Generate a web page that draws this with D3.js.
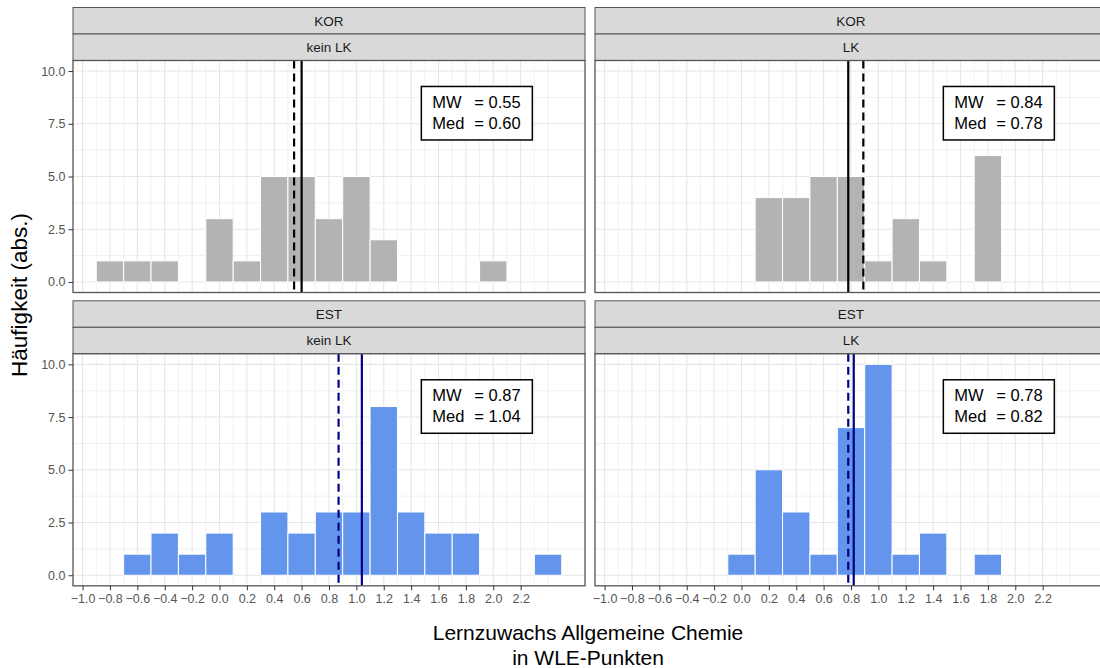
<!DOCTYPE html>
<html><head><meta charset="utf-8">
<script src="https://cdn.jsdelivr.net/npm/d3@7"></script>
<style>body{margin:0;background:#fff;overflow:hidden} text{font-family:"Liberation Sans",Arial,sans-serif;}</style>
</head><body><svg id="chart" width="1100" height="668"></svg>
<script>
// ---- data ----
const binMids = [-0.8,-0.6,-0.4,-0.2,0.0,0.2,0.4,0.6,0.8,1.0,1.2,1.4,1.6,1.8,2.0,2.2,2.4];
const korKeinLK = [1,1,1,0,3,1,5,5,3,5,2,0,0,0,1,0,0];
const korLK     = [0,0,0,0,0,4,4,5,5,1,3,1,0,6,0,0,0];
const estKeinLK = [0,1,2,1,2,0,3,2,3,3,8,3,2,2,0,0,1];
const estLK     = [0,0,0,0,1,5,3,1,7,10,1,2,0,1,0,0,0];
const countries = ["KOR","KOR","EST","EST"];
const groups = ["kein LK","LK","kein LK","LK"];
const meanLines = [0.545,0.89,0.87,0.78];   // dashed
const medianLines = [0.60,0.78,1.04,0.82];  // solid
const mwLabels = ["0.55","0.84","0.87","0.78"];
const medLabels = ["0.60","0.78","1.04","0.82"];
const xTickValues = [-1.0,-0.8,-0.6,-0.4,-0.2,0.0,0.2,0.4,0.6,0.8,1.0,1.2,1.4,1.6,1.8,2.0,2.2];
const xMinor = [-0.9,-0.7,-0.5,-0.3,-0.1,0.1,0.3,0.5,0.7,0.9,1.1,1.3,1.5,1.7,1.9,2.1,2.3,2.4];
const yTickValues = [0,2.5,5,7.5,10];
const yMinor = [1.25,3.75,6.25,8.75];
const countsByPanel = [korKeinLK, korLK, estKeinLK, estLK];

// ---- layout ----
const svg = d3.select("#chart");
const colX = [73, 595];
const rowY = [7.5, 300.8];
const panelW = 512, stripH = 26.5, plotH = 232;
const x = d3.scaleLinear().domain([-1.07, 2.67]).range([0, panelW]);
const y = d3.scaleLinear().domain([-0.5, 10.5]).range([plotH, 0]);
const fills = {KOR:"#b3b3b3", EST:"#6495ed"};
const lineCol = {KOR:"#000000", EST:"#000080"};

const defs = svg.append("defs");
countsByPanel.forEach((counts, i) => {
  const col = i % 2, row = Math.floor(i / 2);
  const px = colX[col], top = rowY[row], py = top + 2*stripH;
  const country = countries[i];
  defs.append("clipPath").attr("id","clip"+i).append("rect")
    .attr("x",0).attr("y",0).attr("width",panelW).attr("height",plotH);

  // strips
  [country, groups[i]].forEach((lab, k) => {
    const sy = top + k*stripH;
    svg.append("rect").attr("x",px).attr("y",sy).attr("width",panelW).attr("height",stripH)
      .attr("fill","#d9d9d9").attr("stroke","#555").attr("stroke-width",1);
    svg.append("text").attr("x",px+panelW/2).attr("y",sy+stripH/2+4.8)
      .attr("text-anchor","middle").attr("font-size",13.5).attr("fill","#1a1a1a").text(lab);
  });

  const g = svg.append("g").attr("transform",`translate(${px},${py})`);
  const inner = g.append("g").attr("clip-path",`url(#clip${i})`);
  inner.append("rect").attr("width",panelW).attr("height",plotH).attr("fill","#fff");
  // grid
  inner.selectAll(".xmin").data(xMinor).join("line")
    .attr("x1",d=>x(d)).attr("x2",d=>x(d)).attr("y1",0).attr("y2",plotH)
    .attr("stroke","#ebebeb").attr("stroke-width",0.7);
  inner.selectAll(".ymin").data(yMinor).join("line")
    .attr("y1",d=>y(d)).attr("y2",d=>y(d)).attr("x1",0).attr("x2",panelW)
    .attr("stroke","#ebebeb").attr("stroke-width",0.7);
  inner.selectAll(".xmaj").data(xTickValues).join("line")
    .attr("x1",d=>x(d)).attr("x2",d=>x(d)).attr("y1",0).attr("y2",plotH)
    .attr("stroke","#e6e6e6").attr("stroke-width",1.1);
  inner.selectAll(".ymaj").data(yTickValues).join("line")
    .attr("y1",d=>y(d)).attr("y2",d=>y(d)).attr("x1",0).attr("x2",panelW)
    .attr("stroke","#e6e6e6").attr("stroke-width",1.1);
  // bars
  const bars = binMids.map((m, j) => ({m, c: counts[j]})).filter(d => d.c > 0);
  inner.selectAll(".bar").data(bars).join("rect")
    .attr("x",d=>x(d.m-0.1)).attr("width",d=>x(d.m+0.1)-x(d.m-0.1))
    .attr("y",d=>y(d.c)).attr("height",d=>y(0)-y(d.c))
    .attr("fill",fills[country]).attr("stroke","#fff").attr("stroke-width",1);
  // lines
  inner.append("line").attr("x1",x(meanLines[i])).attr("x2",x(meanLines[i]))
    .attr("y1",0).attr("y2",plotH).attr("stroke",lineCol[country]).attr("stroke-width",2.2)
    .attr("stroke-dasharray","8,5");
  inner.append("line").attr("x1",x(medianLines[i])).attr("x2",x(medianLines[i]))
    .attr("y1",0).attr("y2",plotH).attr("stroke",lineCol[country]).attr("stroke-width",2.2);
  // annotation box
  const bw = 111, bh = 53.5;
  const bx = x(1.88) - bw/2, by = y(8.0) - bh/2;
  const ann = g.append("g").attr("transform",`translate(${bx},${by})`);
  ann.append("rect").attr("width",bw).attr("height",bh).attr("fill","#fff")
    .attr("stroke","#000").attr("stroke-width",1.5);
  [["MW", mwLabels[i], 21.5],["Med", medLabels[i], 42.5]].forEach(([a,b,yy]) => {
    ann.append("text").attr("x",11).attr("y",yy).attr("font-size",16.5).attr("fill","#000").text(a);
    ann.append("text").attr("x",53).attr("y",yy).attr("font-size",16.5).attr("fill","#000").text("= " + b);
  });
  // border
  g.append("rect").attr("width",panelW).attr("height",plotH).attr("fill","none")
    .attr("stroke","#555").attr("stroke-width",1.3);

  // y axis on left column
  if (col === 0) {
    const ya = g.append("g").call(d3.axisLeft(y).tickValues(yTickValues).tickFormat(d3.format(".1f")).tickSize(4.5).tickPadding(3));
    ya.select(".domain").remove();
    ya.selectAll("line").attr("stroke","#333");
    ya.selectAll("text").attr("font-size",12.5).attr("fill","#555").attr("font-family",null);
  }
  // x axis on bottom row
  if (row === 1) {
    const xa = g.append("g").attr("transform",`translate(0,${plotH})`)
      .call(d3.axisBottom(x).tickValues(xTickValues).tickFormat(d3.format(".1f")).tickSize(4.5).tickPadding(4));
    xa.select(".domain").remove();
    xa.selectAll("line").attr("stroke","#333");
    xa.selectAll("text").attr("font-size",12.5).attr("fill","#555").attr("font-family",null);
  }
});

// axis titles
svg.append("text").attr("transform","translate(27,295) rotate(-90)")
  .attr("text-anchor","middle").attr("font-size",22.5).attr("fill","#000").text("Häufigkeit (abs.)");
svg.append("text").attr("x",588).attr("y",640).attr("text-anchor","middle")
  .attr("font-size",21).attr("fill","#000").text("Lernzuwachs Allgemeine Chemie");
svg.append("text").attr("x",588).attr("y",665).attr("text-anchor","middle")
  .attr("font-size",21).attr("fill","#000").text("in WLE-Punkten");
</script></body></html>
